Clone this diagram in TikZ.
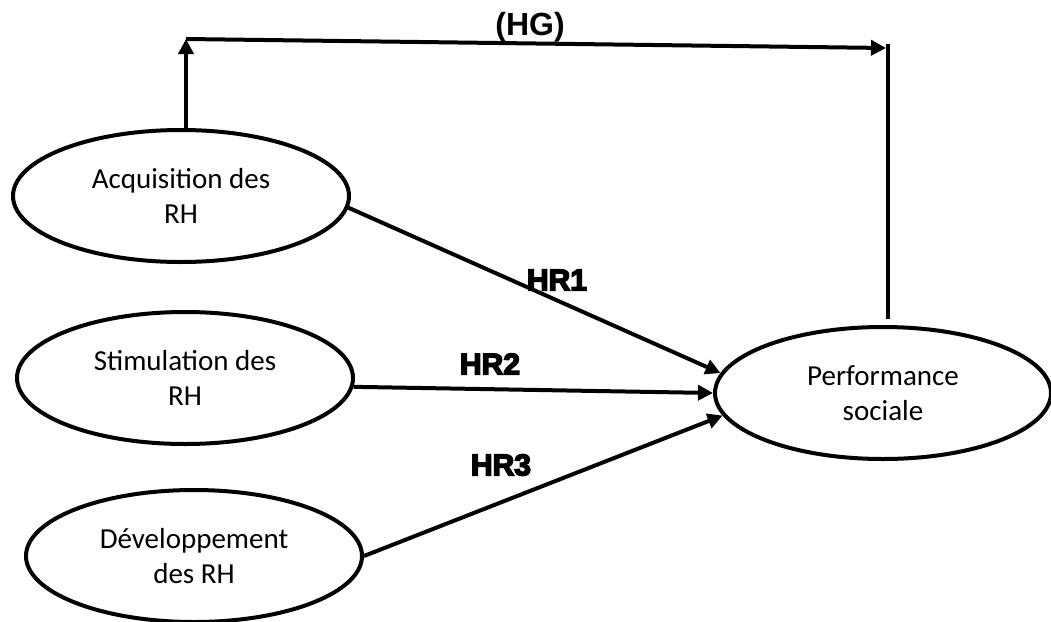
\documentclass[tikz,border=0pt]{standalone}
\usepackage{fontspec}
\setmainfont{Carlito}
\newfontfamily\hfont{Liberation Sans}
\newfontfamily\heavyfont[FakeBold=5]{Liberation Sans Bold}
\usetikzlibrary{shapes.geometric,arrows.meta}
\begin{document}
\begin{tikzpicture}[x=1pt,y=-1pt,
  oval/.style={ellipse,draw,line width=4pt,minimum width=336pt,minimum height=132pt,inner sep=0pt,align=center,font=\fontsize{29}{35}\selectfont},
  link/.style={line width=4pt,-{Triangle[length=15pt,width=15pt]}},
  plain/.style={line width=4pt},
  hyp/.style={font=\heavyfont\fontsize{30}{36}\selectfont,inner sep=0pt},
  hypg/.style={font=\hfont\bfseries\fontsize{32}{38}\selectfont,inner sep=0pt}]
\useasboundingbox (0,0) rectangle (1051,621);
\node[oval] (acq) at (181,196) {Acquisition des\\RH};
\node[oval] (sti) at (185,378) {Stimulation des\\RH};
\node[oval] (dev) at (194,556) {Développement\\des RH};
\node[oval] (perf) at (883,393) {Performance\\sociale};
\coordinate (tl) at (186,39);
\coordinate (tr) at (886,48);
\coordinate (rt) at (888,44);
\draw[link] (tl |- acq.north) -- (tl);
\draw[link] (tl) -- (tr);
\draw[plain] ([yshift=6pt]perf.north -| rt) -- (rt);
\draw[link] (acq.-4.8) -- (perf.173.6);
\draw[link] (sti.-3) -- (perf.180);
\draw[link] (dev.0) -- (perf.188.5);
\node[hypg] (hg) at (530,27) {(HG)};
\node[hyp] (hr1) at (557,280) {HR1};
\node[hyp] (hr2) at (490,364) {HR2};
\node[hyp] (hr3) at (501,465) {HR3};
\end{tikzpicture}
\end{document}
